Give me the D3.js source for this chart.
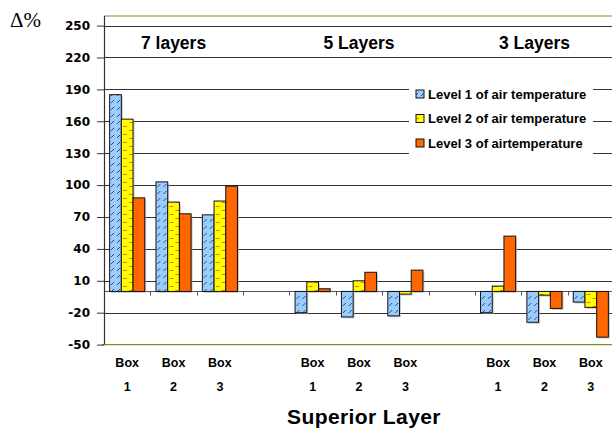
<!DOCTYPE html>
<html>
<head>
<meta charset="utf-8">
<script src="https://cdn.jsdelivr.net/npm/d3@7"></script>
<style>
  html, body { margin: 0; padding: 0; background: #fff; }
  svg { display: block; }
</style>
</head>
<body>
<svg id="chart" width="612" height="430"></svg>
<script>
// Layer configurations and the boxes within each one
const groups = ["7 layers", "5 Layers", "3 Layers"];
const boxes = ["1", "2", "3"];

// Change (%) per box, group by group (7, 5, 3 layers)
const level1 = [185, 103, 72, -20, -24, -23, -20, -29, -10];
const level2 = [162, 84, 85, 9, 10, -2.5, 5, -3.5, -15];
const level3 = [88, 73, 99, 2.5, 18, 20, 52, -16, -43];

const seriesNames = [
  "Level 1 of air temperature",
  "Level 2 of air temperature",
  "Level 3 of airtemperature"
];

const yTicks = [-50, -20, 10, 40, 70, 100, 130, 160, 190, 220, 250];

const W = 612, H = 430;
const plotL = 104, plotR = 614, plotT = 16, plotB = 344.6;

const svg = d3.select("#chart");
const defs = svg.append("defs");

// Fill patterns for the first two series
const p1 = defs.append("pattern").attr("id", "hatchBlue")
  .attr("patternUnits", "userSpaceOnUse").attr("width", 6).attr("height", 7);
p1.append("rect").attr("width", 6).attr("height", 7).attr("fill", "#99ccff");
p1.append("line").attr("x1", 1).attr("y1", 5).attr("x2", 4).attr("y2", 2)
  .attr("stroke", "#3a4a6a").attr("stroke-width", 1);

const p2 = defs.append("pattern").attr("id", "dashYellow")
  .attr("patternUnits", "userSpaceOnUse").attr("width", 12).attr("height", 8);
p2.append("rect").attr("width", 12).attr("height", 8).attr("fill", "#ffff00");
p2.append("line").attr("x1", 1).attr("y1", 2.5).attr("x2", 5).attr("y2", 2.5)
  .attr("stroke", "#ff6a1a").attr("stroke-width", 1);
p2.append("line").attr("x1", 7).attr("y1", 6.5).attr("x2", 11).attr("y2", 6.5)
  .attr("stroke", "#ff6a1a").attr("stroke-width", 1);

const fills = ["url(#hatchBlue)", "url(#dashYellow)", "#ff6600"];

// Slots along x: three boxes per group, one empty slot between groups
const slots = [];
const rows = [];
groups.forEach((g, gi) => {
  boxes.forEach((b, bi) => {
    const key = g + "|" + b;
    slots.push(key);
    const i = gi * boxes.length + bi;
    rows.push({ key, group: g, box: b, values: [level1[i], level2[i], level3[i]] });
  });
  if (gi < groups.length - 1) slots.push("gap" + gi);
});

const x = d3.scaleBand().domain(slots).range([plotL, plotR]).padding(0);
const xs = d3.scaleBand().domain([0, 1, 2]).range([0, x.bandwidth()])
  .paddingInner(0).paddingOuter(0.48);
const y = d3.scaleLinear().domain([-50, 259]).range([plotB, plotT]);

// Plot frame lines
svg.append("line").attr("x1", plotL).attr("x2", W).attr("y1", plotT).attr("y2", plotT)
  .attr("stroke", "#8a8a2a").attr("stroke-width", 1.2);
svg.append("line").attr("x1", plotL - 2).attr("x2", W).attr("y1", plotB).attr("y2", plotB)
  .attr("stroke", "#8a8a2a").attr("stroke-width", 1.2);

// Horizontal grid
svg.append("g").selectAll("line")
  .data(yTicks.filter(t => t > -50))
  .join("line")
  .attr("x1", plotL).attr("x2", W)
  .attr("y1", d => Math.round(y(d)) + 0.5).attr("y2", d => Math.round(y(d)) + 0.5)
  .attr("stroke", "#333").attr("stroke-width", 1.1);

// Zero baseline with category ticks
const zeroY = Math.round(y(0)) + 0.5;
svg.append("line").attr("x1", plotL).attr("x2", W).attr("y1", zeroY).attr("y2", zeroY)
  .attr("stroke", "#555").attr("stroke-width", 1.1);
svg.append("g").selectAll("line")
  .data(slots.slice(1))
  .join("line")
  .attr("x1", d => Math.round(x(d)) + 0.5).attr("x2", d => Math.round(x(d)) + 0.5)
  .attr("y1", zeroY).attr("y2", zeroY + 4)
  .attr("stroke", "#555").attr("stroke-width", 1);

// Y axis (plain hyphen for negatives)
const yAxis = svg.append("g").attr("transform", `translate(${plotL},0)`)
  .call(d3.axisLeft(y).tickValues(yTicks).tickSize(7).tickPadding(7).tickFormat(d => String(d)));
yAxis.select(".domain").attr("d", `M0.5,${plotT}V${plotB}`).attr("stroke", "#333").attr("stroke-width", 1.2);
yAxis.selectAll(".tick line").attr("stroke", "#333");
yAxis.selectAll(".tick text")
  .attr("font-family", "'DejaVu Sans', Verdana, sans-serif")
  .attr("font-weight", "bold").attr("font-size", 12).attr("fill", "#000");

// Bars
const barG = svg.append("g");
rows.forEach(r => {
  const g = barG.append("g").attr("transform", `translate(${x(r.key)},0)`);
  const bars = r.values.map((v, i) => ({ v, i }));
  g.selectAll("rect.shadow").data(bars).join("rect").attr("class", "shadow")
    .attr("x", d => xs(d.i) + 1.5)
    .attr("y", d => Math.min(y(d.v), y(0)) + 1.5)
    .attr("width", xs.bandwidth())
    .attr("height", d => Math.abs(y(d.v) - y(0)))
    .attr("fill", "#aaa").attr("opacity", 0.6);
  g.selectAll("rect.bar").data(bars).join("rect").attr("class", "bar")
    .attr("x", d => xs(d.i))
    .attr("y", d => Math.min(y(d.v), y(0)))
    .attr("width", xs.bandwidth())
    .attr("height", d => Math.abs(y(d.v) - y(0)))
    .attr("fill", d => fills[d.i])
    .attr("stroke", "#111").attr("stroke-width", 1);
});

// Group titles
const groupDx = [0, 0, -10];
svg.append("g").selectAll("text")
  .data(groups)
  .join("text")
  .attr("x", (g, i) => x(g + "|2") + x.bandwidth() / 2 + groupDx[i])
  .attr("y", 49)
  .attr("text-anchor", "middle")
  .attr("font-family", "'Liberation Sans', Arial, sans-serif")
  .attr("font-weight", "bold").attr("font-size", 17.5)
  .text(d => d);

// Category labels
const catG = svg.append("g")
  .attr("font-family", "'Liberation Sans', Arial, sans-serif")
  .attr("font-weight", "bold").attr("font-size", 12.5).attr("text-anchor", "middle");
rows.forEach(r => {
  const cx = x(r.key) + x.bandwidth() / 2;
  catG.append("text").attr("x", cx).attr("y", 367).text("Box");
  catG.append("text").attr("x", cx).attr("y", 391).text(r.box);
});

// Axis titles
svg.append("text").attr("x", 364).attr("y", 424).attr("text-anchor", "middle")
  .attr("font-family", "'Liberation Sans', Arial, sans-serif")
  .attr("font-weight", "bold").attr("font-size", 21).attr("letter-spacing", 0.4)
  .text("Superior Layer");
svg.append("text").attr("x", 10).attr("y", 27)
  .attr("font-family", "'Liberation Serif', 'Times New Roman', serif")
  .attr("font-size", 21).text("Δ%");

// Legend
const lg = svg.append("g");
lg.append("rect").attr("x", 409).attr("y", 82).attr("width", 184).attr("height", 74).attr("fill", "#fff");
const legendY = [94, 118.5, 143];
seriesNames.forEach((name, i) => {
  lg.append("rect").attr("x", 416).attr("y", legendY[i] - 4).attr("width", 8).attr("height", 8)
    .attr("fill", fills[i]).attr("stroke", "#111").attr("stroke-width", 1);
  lg.append("text").attr("x", 428).attr("y", legendY[i] + 4.5)
    .attr("font-family", "'Liberation Sans', Arial, sans-serif")
    .attr("font-weight", "bold").attr("font-size", 13).text(name);
});
</script>
</body>
</html>
